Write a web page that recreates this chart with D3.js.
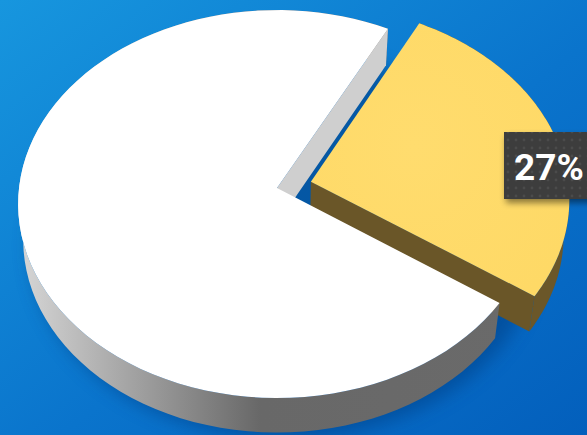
<!DOCTYPE html>
<html>
<head>
<meta charset="utf-8">
<script src="https://cdn.jsdelivr.net/npm/d3@7"></script>
<style>
  html, body { margin: 0; padding: 0; overflow: hidden; }
  svg { display: block; }
</style>
</head>
<body>
<svg id="svg-pie"></svg>
<script>
// data
var sliceNames = ['Share', 'Rest'],
    sliceValues = [27, 73],
    labelTexts = ['27%', ''];

var width = 587,
    height = 435,
    cx = 277, cy = 188,          // projected centre of the top face
    radius = 258,
    thickness = 55,
    tilt = 48.3 * Math.PI / 180,
    viewDist = 2076,
    explode = [35, 0],
    startAngle = 27.5 * Math.PI / 180;

var sinA = Math.sin(tilt), cosA = Math.cos(tilt);

var svg = d3.select('#svg-pie')
    .attr('width', width)
    .attr('height', height);

var defs = svg.append('defs');

var bg = defs.append('linearGradient').attr('id', 'bg')
    .attr('x1', 0).attr('y1', 0).attr('x2', 1).attr('y2', 1);
bg.append('stop').attr('offset', '0%').attr('stop-color', '#1796de');
bg.append('stop').attr('offset', '55%').attr('stop-color', '#0a74cc');
bg.append('stop').attr('offset', '100%').attr('stop-color', '#035fbc');

var wall = defs.append('linearGradient').attr('id', 'wallWhite')
    .attr('gradientUnits', 'userSpaceOnUse')
    .attr('x1', 20).attr('y1', 0).attr('x2', 520).attr('y2', 0);
wall.append('stop').attr('offset', '0%').attr('stop-color', '#d6d6d6');
wall.append('stop').attr('offset', '48%').attr('stop-color', '#686868');
wall.append('stop').attr('offset', '100%').attr('stop-color', '#6a6a6a');

var yel = defs.append('radialGradient').attr('id', 'topYellow')
    .attr('cx', '40%').attr('cy', '45%').attr('r', '70%');
yel.append('stop').attr('offset', '0%').attr('stop-color', '#ffdc6e');
yel.append('stop').attr('offset', '100%').attr('stop-color', '#fed966');

defs.append('filter').attr('id', 'blur')
    .attr('x', '-20%').attr('y', '-20%').attr('width', '140%').attr('height', '140%')
  .append('feGaussianBlur').attr('stdDeviation', 9);

var ds = defs.append('filter').attr('id', 'boxShadow')
    .attr('x', '-30%').attr('y', '-30%').attr('width', '160%').attr('height', '180%');
ds.append('feDropShadow').attr('dx', 2).attr('dy', 4).attr('stdDeviation', 3)
    .attr('flood-color', '#000').attr('flood-opacity', 0.45);

var pat = defs.append('pattern').attr('id', 'dots')
    .attr('patternUnits', 'userSpaceOnUse')
    .attr('width', 8).attr('height', 8);
pat.append('rect').attr('width', 8).attr('height', 8).attr('fill', '#3d3d3d');
pat.append('circle').attr('cx', 4).attr('cy', 4).attr('r', 1.4).attr('fill', '#4c4c4c');

svg.append('rect')
    .attr('width', width).attr('height', height)
    .attr('fill', 'url(#bg)');

// perspective projection of a point on the disc (y up)
function project(x, y, z) {
  var w = z * cosA + y * sinA,
      s = viewDist / (viewDist - w);
  return [cx + x * s, cy + (z * sinA - y * cosA) * s];
}

function rim(a0, a1, y, off) {
  var pts = [], n = 90;
  for (var i = 0; i <= n; i++) {
    var a = a0 + (a1 - a0) * i / n;
    pts.push(project(off[0] + radius * Math.sin(a), y, off[1] - radius * Math.cos(a)));
  }
  return pts;
}

var line = d3.line();

var pie = d3.pie().sort(null)
    .startAngle(startAngle)
    .endAngle(startAngle + 2 * Math.PI);

var arcs = pie(sliceValues);

var styles = [
  { top: 'url(#topYellow)', outer: '#6b5729', radial: '#6a5628', explode: true },
  { top: '#ffffff', outer: 'url(#wallWhite)', radial: '#cfcfcf', explode: false }
];

// soft shadow under the whole pie
var shadowPts = rim(0, 2 * Math.PI, -thickness, [0, 0]).map(function(p) { return [p[0] + 8, p[1] + 6]; });
svg.append('path')
    .attr('d', line(shadowPts) + 'Z')
    .attr('fill', '#003c82')
    .attr('opacity', 0.55)
    .attr('filter', 'url(#blur)');

var g = svg.append('g').attr('class', 'g-pie');

arcs.forEach(function(d, i) {
  var st = styles[i],
      mid = (d.startAngle + d.endAngle) / 2,
      off = st.explode ? [explode[0] * Math.sin(mid), -explode[0] * Math.cos(mid)] : [0, 0],
      top = rim(d.startAngle, d.endAngle, 0, off),
      bot = rim(d.startAngle, d.endAngle, -thickness, off),
      cTop = project(off[0], 0, off[1]),
      cBot = project(off[0], -thickness, off[1]);

  var sg = g.append('g').attr('class', 'slice').attr('data-name', sliceNames[i]);

  // outer curved wall
  sg.append('path')
      .attr('d', line(top.concat(bot.slice().reverse())) + 'Z')
      .attr('fill', st.outer);

  // radial wall at the end angle faces the viewer for both slices
  sg.append('path')
      .attr('d', line([cTop, top[top.length - 1], bot[bot.length - 1], cBot]) + 'Z')
      .attr('fill', st.radial);

  // top face
  sg.append('path')
      .attr('d', line([cTop].concat(top)) + 'Z')
      .attr('fill', st.top);
});

// label
var lab = svg.append('g').attr('class', 'label');
lab.append('rect')
    .attr('x', 504).attr('y', 132)
    .attr('width', 92).attr('height', 67)
    .attr('fill', 'url(#dots)')
    .attr('filter', 'url(#boxShadow)');
lab.append('text')
    .attr('x', 549).attr('y', 180)
    .attr('text-anchor', 'middle')
    .attr('font-family', 'Roboto, "Liberation Sans", sans-serif')
    .attr('font-weight', 'bold')
    .attr('font-size', 37)
    .attr('fill', '#ffffff')
    .text(labelTexts[0]);
</script>
</body>
</html>
